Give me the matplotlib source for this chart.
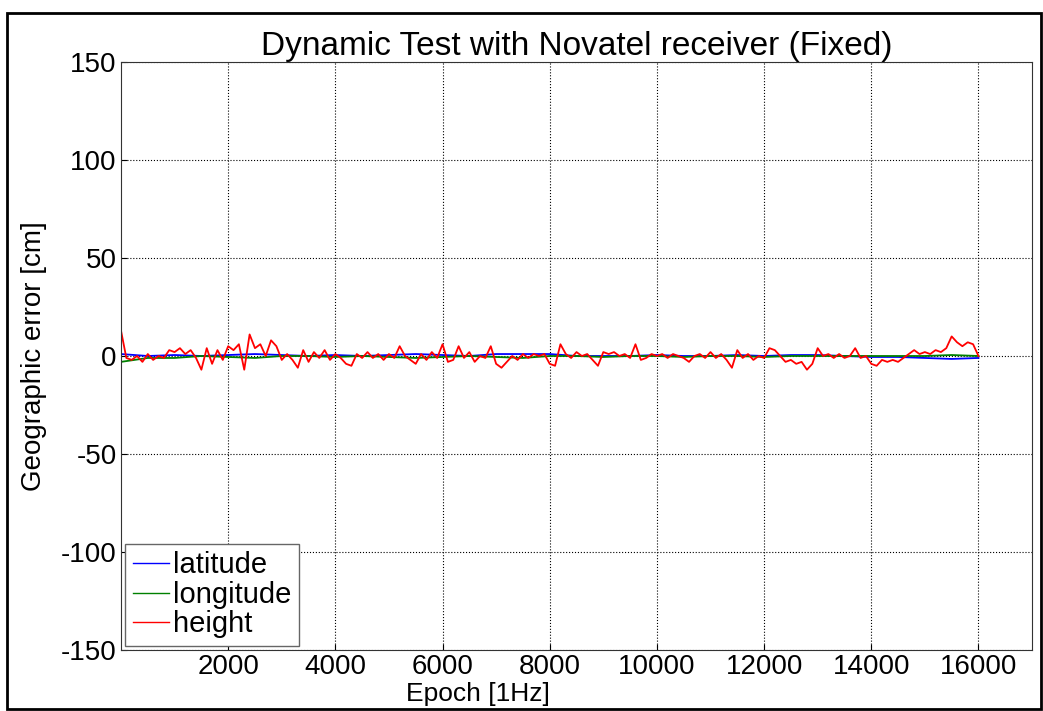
import numpy as np
import matplotlib.pyplot as plt
from matplotlib.patches import Rectangle

plt.rcParams['font.family'] = ['Liberation Sans', 'DejaVu Sans']
plt.rcParams['axes.unicode_minus'] = False

# values
# height: one value every 100 epochs, from 0 to 16000
height = [13, -1, -2, 0, -3, 1, -2, 0, -1, 3,
          2, 4, 1, 3, -1, -7, 4, -4, 3, -2,
          5, 3, 6, -7, 11, 4, 6, 0, 8, 5,
          -2, 1, -2, -6, 3, -3, 2, -1, 3, -2,
          1, -1, -4, -5, 1, -1, 2, -1, 1, -2,
          1, -1, 5, 0, -2, -4, 1, -2, 2, -1,
          6, -3, -2, 5, -1, 2, -3, 0, -1, 5,
          -4, -6, -3, 0, -2, 1, -1, 1, 0, 1,
          -4, -5, 6, 1, -1, 2, 0, 1, -2, -5,
          2, 1, 2, 0, 1, -1, 6, -2, -1, 1,
          0, 1, -1, 1, 0, -1, -3, 0, 1, -1,
          2, -1, 1, -2, -6, 3, -1, 1, -2, 0,
          -1, 4, 3, 0, -3, -2, -4, -3, -7, -4,
          4, 0, 1, -1, 1, -1, 0, 4, -1, 0,
          -4, -5, -2, -3, -2, -3, -1, 1, 3, 1,
          2, 1, 3, 2, 4, 10, 7, 5, 7, 6,
          0]
height_step = 100

# latitude / longitude: one value every 500 epochs
latitude = [1, 0, 0.5, 0, 0.5, 1, 0.5, 0, 0.5, 0,
            0.5, 1, 0.5, 0, 1, 1, 1, 0, 0, 0,
            0.5, 0, 0, 0.5, 0, 0.5, 0.5, 0, -0.5, -0.5,
            -1, -1.5, -1]
longitude = [-3, -1, -1, 0, -0.5, -1, 0, 0, -0.5, 0,
             -0.5, -1, -0.5, 0, -0.5, -1, 0, 0, -0.5, 0,
             0, -0.5, 0, 0, -0.5, 0, 0, 0, 0, 0,
             0, 0.5, 0]
latlon_step = 500

xticks = [2000, 4000, 6000, 8000, 10000, 12000, 14000, 16000]
yticks = [-150, -100, -50, 0, 50, 100, 150]

h_x = np.arange(len(height)) * height_step
ll_x = np.arange(len(latitude)) * latlon_step

fig = plt.figure(figsize=(10.43, 7.11), dpi=100)
ax = fig.add_axes([0.116, 0.0858, 0.8735, 0.827])

ax.plot(ll_x, latitude, color='#0000ff', lw=1.3, label='latitude')
ax.plot(ll_x, longitude, color='#008000', lw=1.3, label='longitude')
ax.plot(h_x, height, color='#ff0000', lw=1.3, label='height')

ax.set_xlim(0, 17000)
ax.set_ylim(-150, 150)
ax.set_xticks(xticks)
ax.set_yticks(yticks)
ax.tick_params(direction='in', length=4, labelsize=20, pad=3)
ax.grid(True, linestyle=':', color='k', linewidth=0.8)
for s in ax.spines.values():
    s.set_color('#333333')
    s.set_linewidth(0.8)

ax.set_title('Dynamic Test with Novatel receiver (Fixed)', fontsize=24, pad=5)
ax.set_xlabel('Epoch [1Hz]', fontsize=19)
ax.xaxis.set_label_coords(0.392, -0.054)
ax.set_ylabel('Geographic error [cm]', fontsize=20, labelpad=10)

leg = ax.legend(loc='lower left', fontsize=21, fancybox=False, framealpha=1,
                edgecolor='#666666', handlelength=1.25, handletextpad=0.15,
                borderaxespad=0.15, borderpad=0.25, labelspacing=0.05)
leg.get_frame().set_linewidth(1.0)
for line in leg.get_lines():
    line.set_linewidth(1.0)

fig.patches.append(Rectangle((0.0067, 0.003), 0.991, 0.979, transform=fig.transFigure,
                             fill=False, edgecolor='k', linewidth=2))

fig.savefig('out.png', dpi=100)
